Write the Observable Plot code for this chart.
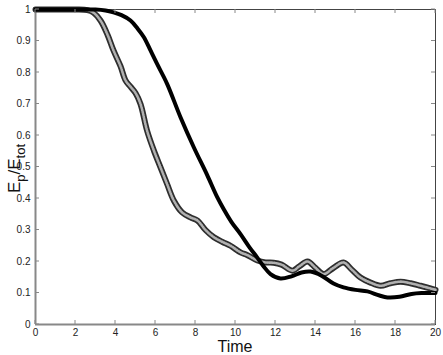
<!DOCTYPE html>
<html>
<head>
<meta charset="utf-8">
<script src="https://cdn.jsdelivr.net/npm/d3@7"></script>
<script src="https://cdn.jsdelivr.net/npm/@observablehq/plot@0.6"></script>
<style>
  html, body { margin: 0; padding: 0; background: #fff; }
</style>
</head>
<body>
<div id="chart"></div>
<script>
// Series A (open circle markers)
const timeA = [0, 1, 2, 2.6, 2.9, 3.25, 3.6, 3.9, 4.25, 4.5, 4.75, 5.0, 5.25, 5.58, 5.92, 6.25, 6.58, 6.92, 7.33, 7.75, 8.1, 8.5, 8.92, 9.35, 9.75, 10.25, 10.6, 11.1, 11.5, 11.9, 12.3, 12.85, 13.2, 13.6, 14.0, 14.4, 14.9, 15.4, 15.8, 16.25, 16.75, 17.25, 17.75, 18.25, 18.75, 19.25, 20];
const ratioA = [1, 1, 1, 0.998, 0.99, 0.965, 0.92, 0.87, 0.82, 0.775, 0.755, 0.735, 0.7, 0.615, 0.552, 0.499, 0.446, 0.393, 0.356, 0.34, 0.33, 0.3, 0.277, 0.262, 0.25, 0.229, 0.22, 0.203, 0.197, 0.196, 0.19, 0.171, 0.185, 0.2, 0.18, 0.16, 0.18, 0.197, 0.175, 0.149, 0.133, 0.123, 0.131, 0.136, 0.131, 0.123, 0.11];
// Series B (x markers, dark thick)
const timeB = [0, 1, 2, 3, 3.5, 3.9, 4.3, 4.75, 5.1, 5.42, 5.75, 6.08, 6.58, 7.25, 7.92, 8.58, 9.08, 9.42, 9.8, 10.25, 10.7, 11.08, 11.4, 11.75, 12.25, 12.8, 13.3, 13.75, 14.3, 14.9, 15.4, 16.0, 16.6, 17.2, 17.6, 18.2, 18.8, 19.3, 20];
const ratioB = [1, 1, 1, 1, 0.997, 0.991, 0.982, 0.965, 0.94, 0.912, 0.87, 0.827, 0.764, 0.658, 0.562, 0.475, 0.405, 0.365, 0.325, 0.287, 0.245, 0.213, 0.185, 0.16, 0.146, 0.153, 0.165, 0.168, 0.155, 0.13, 0.118, 0.11, 0.105, 0.092, 0.086, 0.088, 0.097, 0.1, 0.1];

const xTicks = [0, 2, 4, 6, 8, 10, 12, 14, 16, 18, 20];
const yTicks = [0, 0.1, 0.2, 0.3, 0.4, 0.5, 0.6, 0.7, 0.8, 0.9, 1];
const xLabel = "Time";

const A = timeA.map((t, i) => ({t, e: ratioA[i]}));
const B = timeB.map((t, i) => ({t, e: ratioB[i]}));
const fmt = d3.format("~g");

const plot = Plot.plot({
  width: 443,
  height: 355,
  marginLeft: 35,
  marginRight: 8,
  marginTop: 9,
  marginBottom: 31,
  x: {domain: [0, 20]},
  y: {domain: [0, 1]},
  style: {fontFamily: "'Liberation Sans', Arial, sans-serif", fontSize: "10px", color: "#222", background: "#fff"},
  marks: [
    Plot.frame({stroke: "#444", strokeWidth: 1}),
    Plot.axisX({ticks: xTicks, tickSize: 0, tickPadding: 4, tickFormat: fmt, label: null}),
    Plot.axisY({ticks: yTicks, tickSize: 0, tickPadding: 5, tickFormat: fmt, label: null}),
    Plot.ruleX([0], {stroke: "#888", strokeWidth: 2}),
    Plot.ruleY([0], {stroke: "#888", strokeWidth: 2}),
    Plot.line(A, {x: "t", y: "e", curve: "catmull-rom", stroke: "#2e2e2e", strokeWidth: 6}),
    Plot.line(A, {x: "t", y: "e", curve: "catmull-rom", stroke: "#b0b0b0", strokeWidth: 2.6, strokeDasharray: "1.2,1.2"}),
    Plot.line(B, {x: "t", y: "e", curve: "catmull-rom", stroke: "#000", strokeWidth: 4})
  ]
});

// inward ticks using the plot's own scales
const sx = plot.scale("x"), sy = plot.scale("y");
const svg = d3.select(plot);
const g = svg.append("g").attr("stroke", "#888").attr("stroke-width", 1);
const y0 = sy.apply(0), y1 = sy.apply(1), x0 = sx.apply(0), x1 = sx.apply(20);
for (const t of xTicks) {
  const x = sx.apply(t);
  g.append("line").attr("x1", x).attr("x2", x).attr("y1", y0).attr("y2", y0 - 4);
  g.append("line").attr("x1", x).attr("x2", x).attr("y1", y1).attr("y2", y1 + 4);
}
for (const v of yTicks) {
  const y = sy.apply(v);
  g.append("line").attr("x1", x0).attr("x2", x0 + 4).attr("y1", y).attr("y2", y);
  g.append("line").attr("x1", x1).attr("x2", x1 - 4).attr("y1", y).attr("y2", y);
}

// axis titles
svg.append("text")
  .attr("x", (x0 + x1) / 2).attr("y", 352)
  .attr("text-anchor", "middle")
  .attr("font-size", 16).attr("fill", "#111")
  .attr("font-family", "'Liberation Sans', Arial, sans-serif")
  .text(xLabel);

const yl = svg.append("text")
  .attr("transform", `translate(20,${(y0 + y1) / 2 + 2}) rotate(-90)`)
  .attr("text-anchor", "middle")
  .attr("font-size", 17).attr("fill", "#111")
  .attr("font-family", "'Liberation Sans', Arial, sans-serif");
yl.append("tspan").text("E");
yl.append("tspan").attr("font-size", 13).attr("dy", 5).text("p");
yl.append("tspan").attr("dy", -5).text("/E");
yl.append("tspan").attr("font-size", 13).attr("dy", 5).text("tot");

document.getElementById("chart").appendChild(plot);
</script>
</body>
</html>
